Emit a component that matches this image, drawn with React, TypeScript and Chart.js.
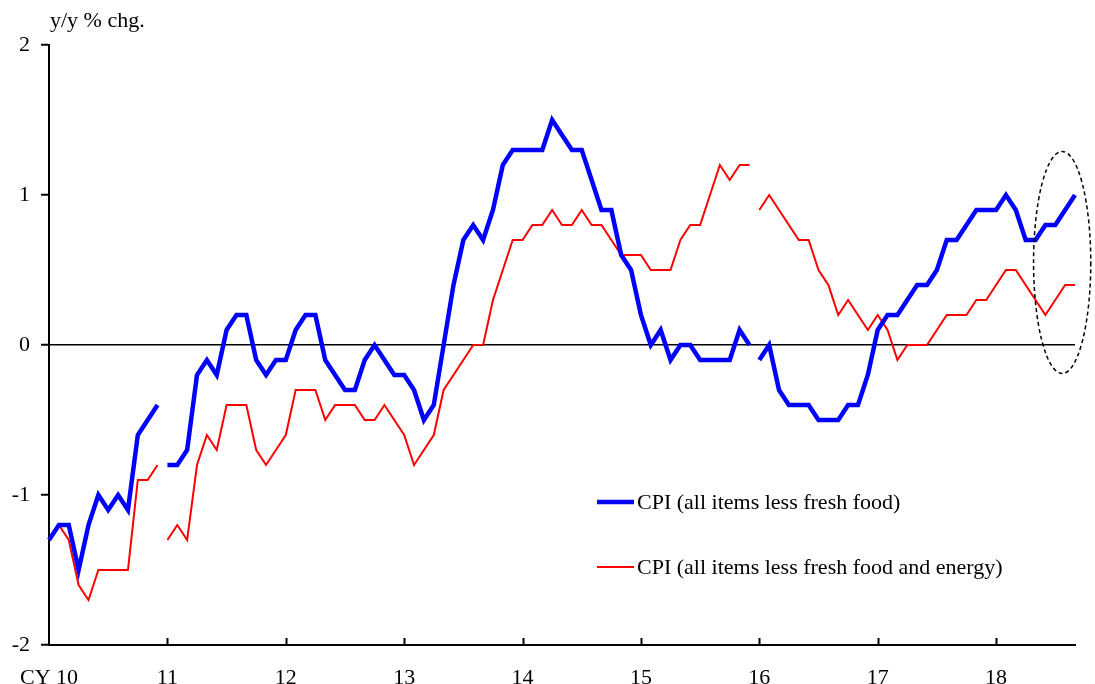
import React, { useEffect, useRef } from 'react';
import { Chart, registerables } from 'chart.js';

Chart.register(...registerables);

// Monthly categories: Jan 2010 .. Sep 2018
const startYear = 2010;
const endYear = 2018;
const endMonth = 9;
const categories: string[] = [];
for (let y = startYear; y <= endYear; y++) {
  for (let m = 1; m <= 12; m++) {
    if (y === endYear && m > endMonth) break;
    categories.push(`${y}-${String(m).padStart(2, '0')}`);
  }
}

// CPI (all items less fresh food), y/y % chg.
const cpiLessFreshFood = [
  -1.3, -1.2, -1.2, -1.5, -1.2, -1.0, -1.1, -1.0, -1.1, -0.6, -0.5, -0.4,
  -0.8, -0.8, -0.7, -0.2, -0.1, -0.2, 0.1, 0.2, 0.2, -0.1, -0.2, -0.1,
  -0.1, 0.1, 0.2, 0.2, -0.1, -0.2, -0.3, -0.3, -0.1, 0.0, -0.1, -0.2,
  -0.2, -0.3, -0.5, -0.4, 0.0, 0.4, 0.7, 0.8, 0.7, 0.9, 1.2, 1.3,
  1.3, 1.3, 1.3, 1.5, 1.4, 1.3, 1.3, 1.1, 0.9, 0.9, 0.6, 0.5,
  0.2, 0.0, 0.1, -0.1, 0.0, 0.0, -0.1, -0.1, -0.1, -0.1, 0.1, 0.0,
  -0.1, 0.0, -0.3, -0.4, -0.4, -0.4, -0.5, -0.5, -0.5, -0.4, -0.4, -0.2,
  0.1, 0.2, 0.2, 0.3, 0.4, 0.4, 0.5, 0.7, 0.7, 0.8, 0.9, 0.9,
  0.9, 1.0, 0.9, 0.7, 0.7, 0.8, 0.8, 0.9, 1.0,
];

// CPI (all items less fresh food and energy), y/y % chg.
const cpiLessFreshFoodEnergy = [
  -1.3, -1.2, -1.3, -1.6, -1.7, -1.5, -1.5, -1.5, -1.5, -0.9, -0.9, -0.8,
  -1.3, -1.2, -1.3, -0.8, -0.6, -0.7, -0.4, -0.4, -0.4, -0.7, -0.8, -0.7,
  -0.6, -0.3, -0.3, -0.3, -0.5, -0.4, -0.4, -0.4, -0.5, -0.5, -0.4, -0.5,
  -0.6, -0.8, -0.7, -0.6, -0.3, -0.2, -0.1, 0.0, 0.0, 0.3, 0.5, 0.7,
  0.7, 0.8, 0.8, 0.9, 0.8, 0.8, 0.9, 0.8, 0.8, 0.7, 0.6, 0.6,
  0.6, 0.5, 0.5, 0.5, 0.7, 0.8, 0.8, 1.0, 1.2, 1.1, 1.2, 1.2,
  0.9, 1.0, 0.9, 0.8, 0.7, 0.7, 0.5, 0.4, 0.2, 0.3, 0.2, 0.1,
  0.2, 0.1, -0.1, 0.0, 0.0, 0.0, 0.1, 0.2, 0.2, 0.2, 0.3, 0.3,
  0.4, 0.5, 0.5, 0.4, 0.3, 0.2, 0.3, 0.4, 0.4,
];

// Series breaks (base-year revisions): no line drawn after these months
const seriesBreaks = ['2010-12', '2015-12'];

const yTicks = [-2, -1, 0, 1, 2];
const yAxisTitle = 'y/y % chg.';
const seriesNames = [
  'CPI (all items less fresh food)',
  'CPI (all items less fresh food and energy)',
];

// Highlighted region (dashed ellipse), in data units
const highlightCenterIndex = 102.7;
const highlightCenterValue = 0.55;
const highlightHalfWidthMonths = 2.9;
const highlightHalfHeight = 0.74;

const FONT = "'Liberation Serif', 'Times New Roman', serif";
const BLUE = '#0000FF';
const RED = '#FF0000';

const breakIdx = seriesBreaks.map((c) => categories.indexOf(c));

const overlayPlugin = {
  id: 'overlay',
  afterDraw(chart: any) {
    const ctx = chart.ctx as CanvasRenderingContext2D;
    const xs = chart.scales.x;
    const ys = chart.scales.y;
    const area = chart.chartArea;
    ctx.save();
    // inward x ticks at each January
    ctx.strokeStyle = '#000';
    ctx.lineWidth = 2;
    categories.forEach((c, i) => {
      if (i > 0 && c.endsWith('-01')) {
        const x = Math.round(xs.getPixelForValue(i)) + 0.5;
        ctx.beginPath();
        ctx.moveTo(x, area.bottom);
        ctx.lineTo(x, area.bottom - 7);
        ctx.stroke();
      }
    });
    // axis title
    ctx.fillStyle = '#000';
    ctx.font = `22px ${FONT}`;
    ctx.textAlign = 'left';
    ctx.textBaseline = 'alphabetic';
    ctx.fillText(yAxisTitle, 50, 27);
    // legend
    const legendItems = [
      { name: seriesNames[0], color: BLUE, width: 4.5, y: 502 },
      { name: seriesNames[1], color: RED, width: 2, y: 567 },
    ];
    legendItems.forEach((it) => {
      ctx.strokeStyle = it.color;
      ctx.lineWidth = it.width;
      ctx.beginPath();
      ctx.moveTo(597, it.y);
      ctx.lineTo(634, it.y);
      ctx.stroke();
      ctx.fillStyle = '#000';
      ctx.textBaseline = 'middle';
      ctx.fillText(it.name, 637, it.y + 1);
    });
    // dashed ellipse
    const cx = xs.getPixelForValue(highlightCenterIndex);
    const cy = ys.getPixelForValue(highlightCenterValue);
    const rx = Math.abs(xs.getPixelForValue(highlightCenterIndex + highlightHalfWidthMonths) - cx);
    const ry = Math.abs(ys.getPixelForValue(highlightCenterValue + highlightHalfHeight) - cy);
    ctx.strokeStyle = '#000';
    ctx.lineWidth = 1.5;
    ctx.setLineDash([4, 3]);
    ctx.beginPath();
    ctx.ellipse(cx, cy, rx, ry, 0, 0, Math.PI * 2);
    ctx.stroke();
    ctx.restore();
  },
};

export default function App() {
  const ref = useRef<HTMLCanvasElement | null>(null);
  useEffect(() => {
    if (!ref.current) return;
    const gapSegment = (color: string) => (ctx: any) =>
      breakIdx.includes(ctx.p0DataIndex) ? 'rgba(0,0,0,0)' : color;
    const chart = new Chart(ref.current, {
      type: 'line',
      data: {
        labels: categories,
        datasets: [
          {
            label: seriesNames[0],
            data: cpiLessFreshFood,
            borderColor: BLUE,
            borderWidth: 4.5,
            pointRadius: 0,
            tension: 0,
            segment: { borderColor: gapSegment(BLUE) },
          },
          {
            label: seriesNames[1],
            data: cpiLessFreshFoodEnergy,
            borderColor: RED,
            borderWidth: 2,
            pointRadius: 0,
            tension: 0,
            segment: { borderColor: gapSegment(RED) },
          },
        ],
      },
      options: {
        responsive: false,
        animation: false,
        layout: { padding: { top: 45, right: 17, left: 0, bottom: 0 } },
        plugins: {
          legend: { display: false },
          tooltip: { enabled: false },
        },
        scales: {
          x: {
            type: 'category',
            offset: false,
            afterFit: (s: any) => {
              s.height = 39;
            },
            grid: { drawOnChartArea: false, drawTicks: false, color: 'rgba(0,0,0,0)' },
            border: { display: true, color: '#000', width: 2 },
            ticks: {
              autoSkip: false,
              maxRotation: 0,
              minRotation: 0,
              padding: 20,
              color: '#000',
              font: { family: FONT, size: 22 },
              callback: (_v: any, i: number) => {
                const c = categories[i];
                if (!c || !c.endsWith('-01')) return '';
                const yy = c.slice(2, 4);
                return i === 0 ? `CY ${yy}` : yy;
              },
            },
          },
          y: {
            min: yTicks[0],
            max: yTicks[yTicks.length - 1],
            afterFit: (s: any) => {
              s.width = 48;
            },
            afterBuildTicks: (s: any) => {
              s.ticks = yTicks.map((v) => ({ value: v }));
            },
            grid: {
              drawOnChartArea: true,
              drawTicks: true,
              tickLength: 8,
              tickWidth: 2,
              tickColor: '#000',
              lineWidth: 1.5,
              color: (c: any) => (c.tick && c.tick.value === 0 ? '#000' : 'rgba(0,0,0,0)'),
            },
            border: { display: true, color: '#000', width: 2 },
            ticks: {
              padding: 11,
              color: '#000',
              font: { family: FONT, size: 22 },
              callback: (v: any) => String(v),
            },
          },
        },
      },
      plugins: [overlayPlugin],
    });
    return () => chart.destroy();
  }, []);
  return (
    <div style={{ position: 'absolute', left: 0, top: 0, width: 1095, height: 684, background: '#fff' }}>
      <canvas ref={ref} width={1095} height={684} style={{ display: 'block' }} />
    </div>
  );
}
